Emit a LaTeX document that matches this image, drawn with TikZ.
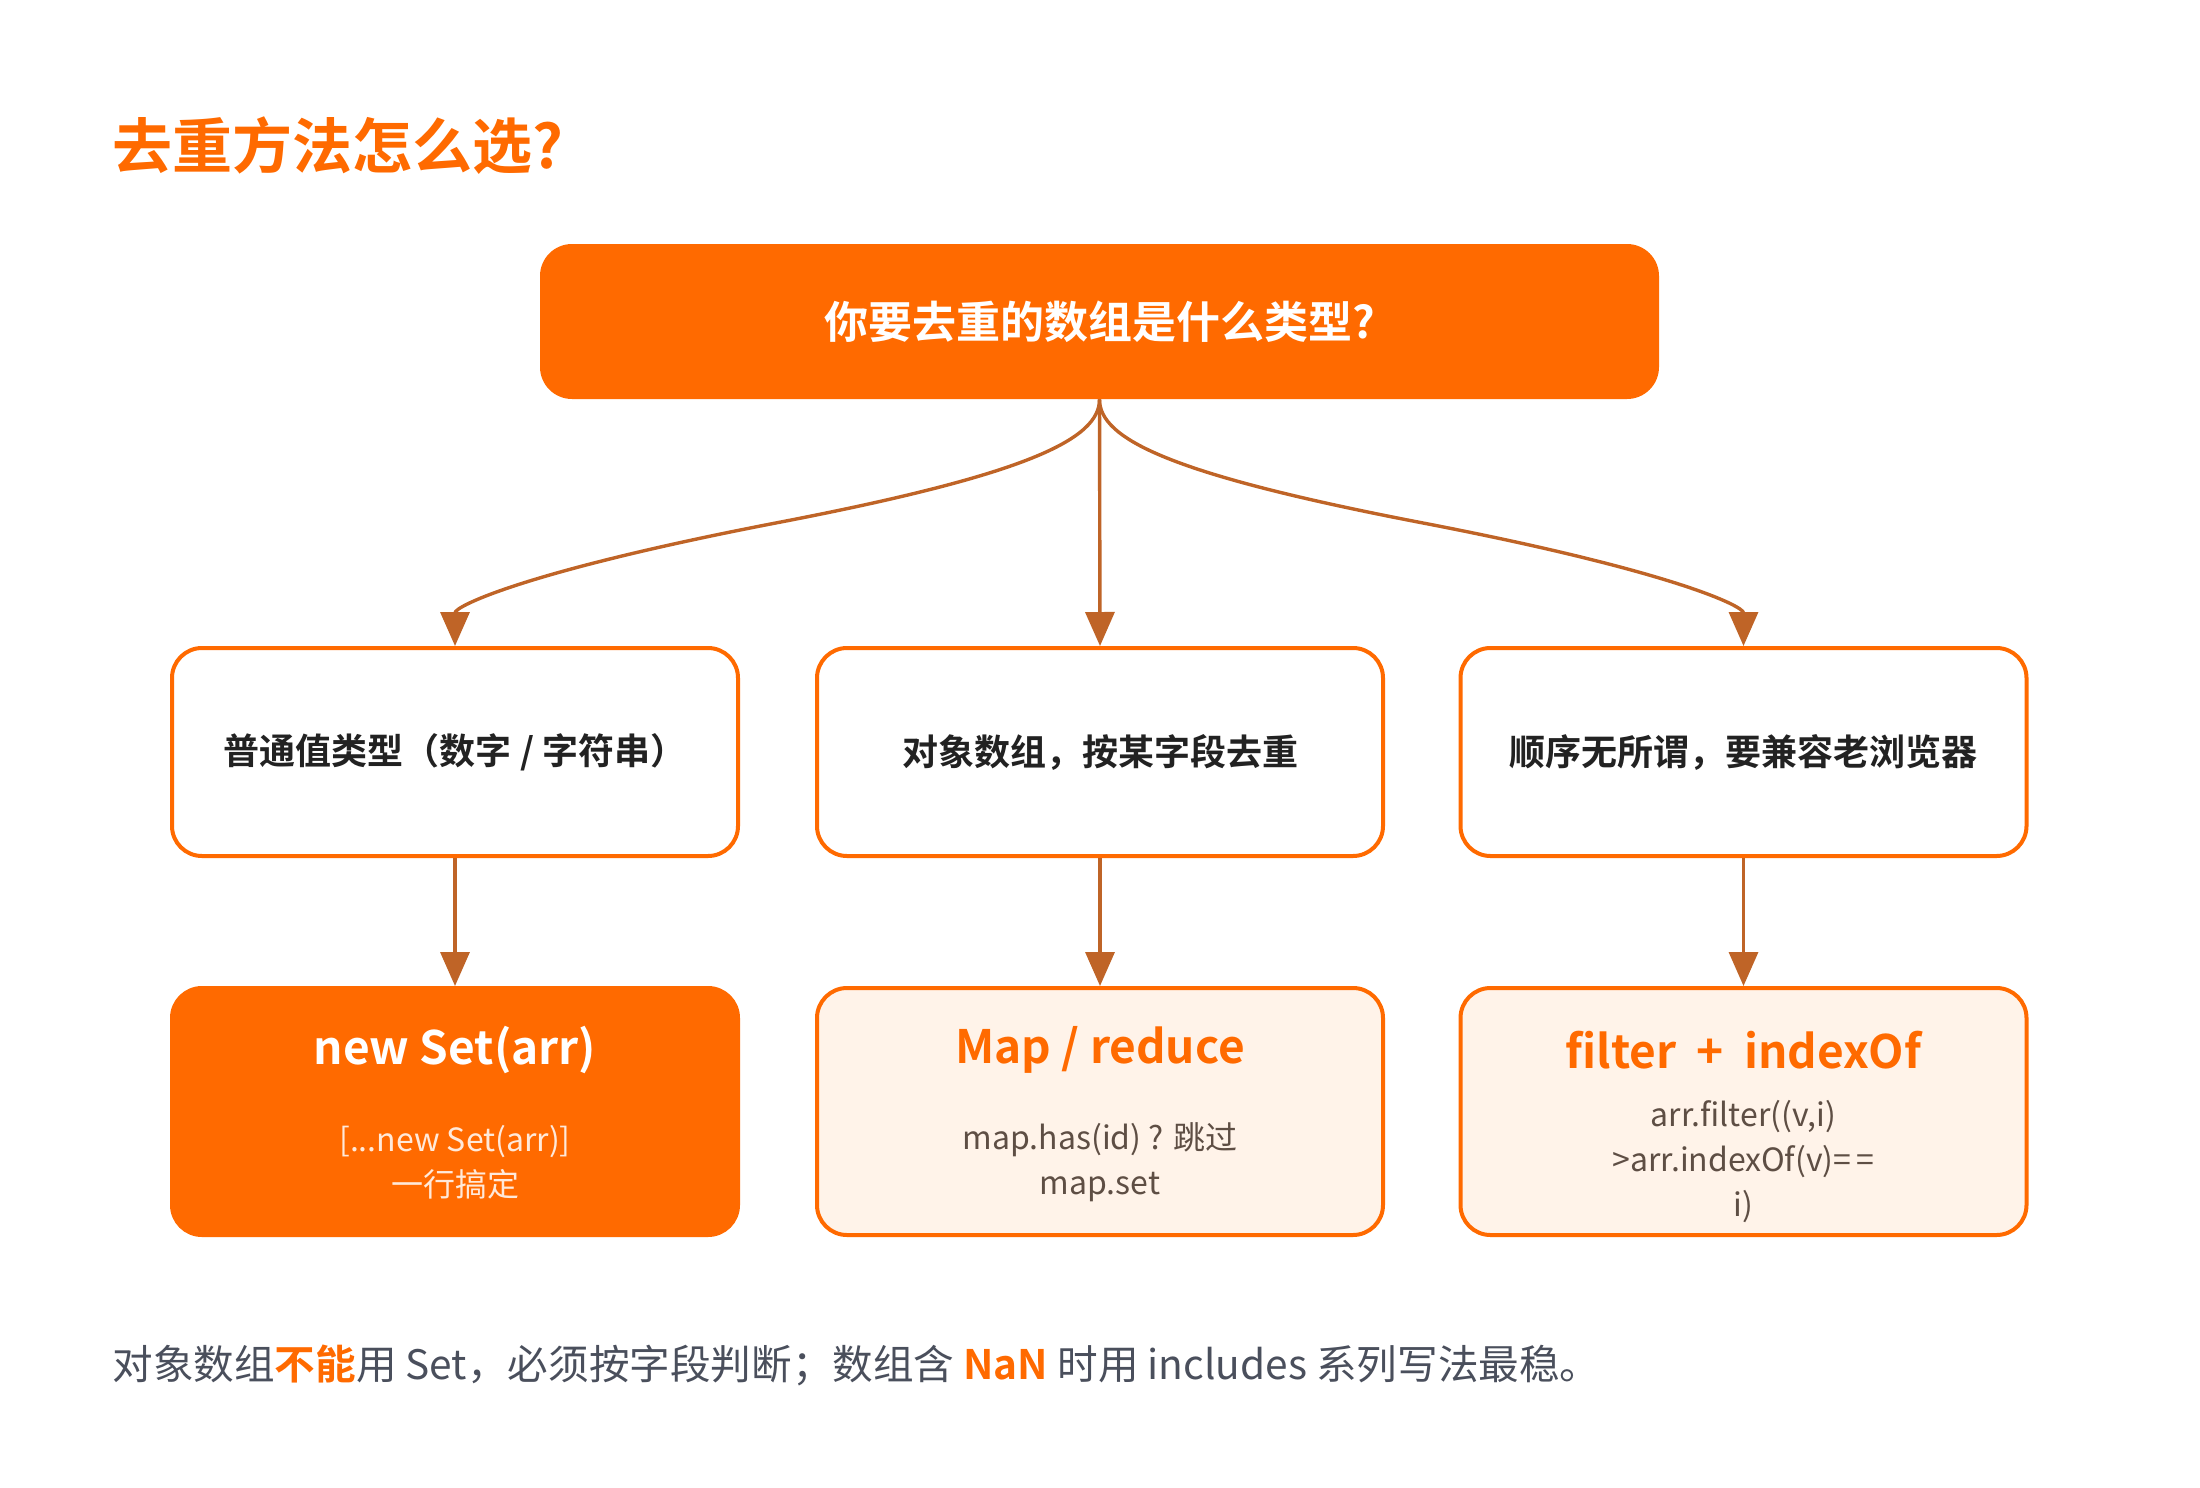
\documentclass[tikz,border=0pt]{standalone}
\usepackage{fontspec}
\setmainfont{Noto Sans CJK SC}[BoldFont={Noto Sans CJK SC Bold}]
\usetikzlibrary{arrows.meta,calc}
\definecolor{org}{HTML}{FF6A00}
\definecolor{arrc}{HTML}{BF6427}
\definecolor{lt}{HTML}{FFF3E9}
\definecolor{dk}{HTML}{222222}
\definecolor{subc}{HTML}{5E4E44}
\definecolor{subw}{HTML}{FFE9DA}
\definecolor{foot}{HTML}{4A4F5C}
\begin{document}
\begin{tikzpicture}[x=0.5pt,y=-0.5pt,
  topbox/.style={fill=org, rounded corners=16pt, minimum width=559.5pt, minimum height=77.5pt, inner sep=0pt, text=white, font=\bfseries\fontsize{22pt}{27pt}\selectfont},
  midbox/.style={draw=org, line width=2pt, fill=white, rounded corners=15pt, minimum width=283pt, minimum height=104pt, inner sep=0pt, text=dk, font=\bfseries\fontsize{18pt}{22pt}\selectfont},
  resbox/.style={draw=org, line width=2pt, fill=lt, rounded corners=15pt, minimum width=283pt, minimum height=123.5pt, inner sep=0pt},
  restitle/.style={inner sep=0pt, text=org, font=\bfseries\fontsize{23pt}{27pt}\selectfont},
  ressub/.style={inner sep=0pt, align=center, text=subc, font=\fontsize{16pt}{22.5pt}\selectfont},
  conn/.style={draw=arrc, line width=1.7pt, -{Triangle[length=17pt,width=14.5pt]}}
]
\useasboundingbox (0,0) rectangle (2200,1488);

\node[anchor=west, inner sep=0pt, text=org, font=\bfseries\fontsize{30pt}{36pt}\selectfont] (title) at (112,146) {去重方法怎么选?};

\node[topbox] (q) at (1099.5,321.5) {你要去重的数组是什么类型?};

\node[midbox] (m1) at (455,752) {普通值类型（数字 / 字符串）};
\node[midbox] (m2) at (1100,752) {对象数组，按某字段去重};
\node[midbox] (m3) at (1743.5,752) {顺序无所谓，要兼容老浏览器};

\node[resbox, fill=org] (b1) at (455,1111.5) {};
\node[resbox] (b2) at (1100,1111.5) {};
\node[resbox] (b3) at (1743.5,1111.5) {};

\node[restitle, text=white] (t1) at (455,1050) {new Set(arr)};
\node[ressub, text=subw] (s1) at (455,1162) {[...new Set(arr)]\\一行搞定};
\node[restitle] (t2) at (1100,1050) {Map / reduce};
\node[ressub] (s2) at (1100,1162) {map.has(id) ? 跳过\\map.set};
\node[restitle] (t3) at (1743.5,1050) {filter\hspace{5pt} + \hspace{5pt}indexOf};
\node[ressub] (s3) at (1743.5,1162) {arr.filter((v,i)\\>arr.indexOf(v)=\,=\\i)};

\coordinate (cl) at ($(q.south)!0.5!(m1.north)$);
\coordinate (cr) at ($(q.south)!0.5!(m3.north)$);
\draw[conn] (q.south) .. controls +(0,40) and +(249.5,-48) .. (cl) .. controls +(-249.5,48) and +(0,-40) .. (m1.north);
\draw[conn] (q.south) -- (m2.north);
\draw[conn] (q.south) .. controls +(0,40) and +(-249.5,-48) .. (cr) .. controls +(249.5,48) and +(0,-40) .. (m3.north);

\draw[conn] (m1.south) -- (b1.north);
\draw[conn] (m2.south) -- (b2.north);
\draw[conn] (m3.south) -- (b3.north);

\node[anchor=west, inner sep=0pt, text=foot, font=\fontsize{20.3pt}{24pt}\selectfont] (ft) at (112,1365) {对象数组{\bfseries\color{org}不能}用 Set，必须按字段判断；数组含 {\bfseries\color{org}NaN} 时用 includes 系列写法最稳。};
\end{tikzpicture}
\end{document}
